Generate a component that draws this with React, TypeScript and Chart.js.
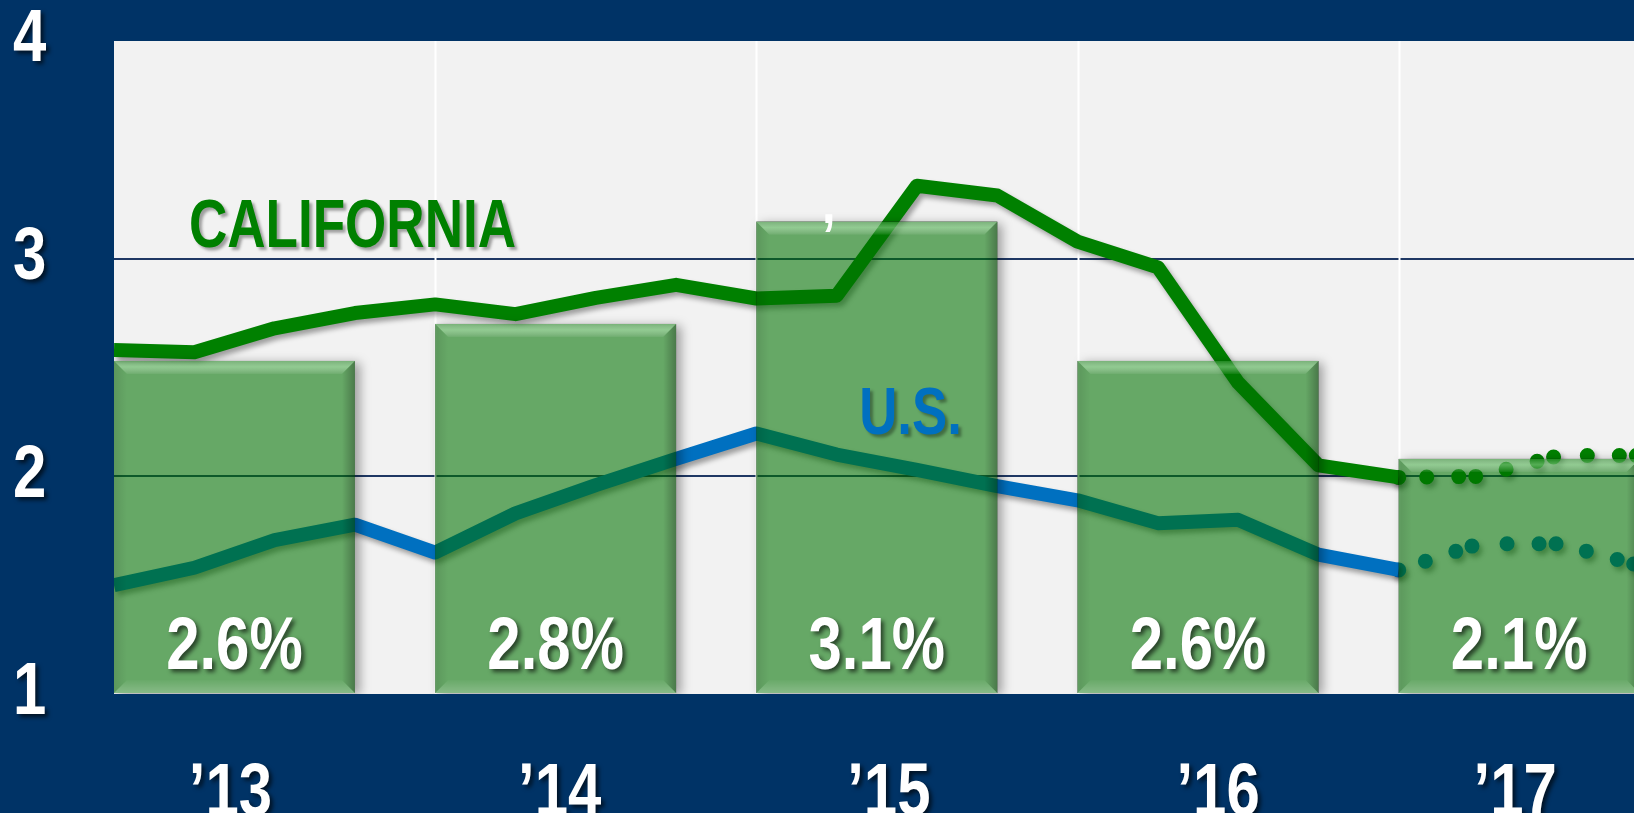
import { useEffect, useRef } from 'react';
import { Chart, registerables } from 'chart.js';

Chart.register(...registerables);

// ---------- data ----------
const YEAR_LABELS = ['\u201913', '\u201914', '\u201915', '\u201916', '\u201917'];
const X_TICK_POS = [1.45, 5.55, 9.65, 13.75, 17.45]; // quarter units (Q1 2013 = 0)
const BAR_VALUES = [2.53, 2.70, 3.17, 2.53, 2.08];
const BAR_LABELS = ['2.6%', '2.8%', '3.1%', '2.6%', '2.1%'];
const QUARTERS = [
  'Q1 13', 'Q2 13', 'Q3 13', 'Q4 13',
  'Q1 14', 'Q2 14', 'Q3 14', 'Q4 14',
  'Q1 15', 'Q2 15', 'Q3 15', 'Q4 15',
  'Q1 16', 'Q2 16', 'Q3 16', 'Q4 16',
  'Q1 17', 'Q2 17', 'Q3 17', 'Q4 17',
];
const CA_ACTUAL = [2.58, 2.57, 2.68, 2.75, 2.79, 2.745, 2.82, 2.88, 2.817, 2.83, 3.335, 3.29, 3.078, 2.96, 2.43, 2.05, 1.995];
const CA_FORECAST = [1.995, 2.0, 2.096, 2.096];
const US_ACTUAL = [1.5, 1.58, 1.707, 1.778, 1.65, 1.83, 1.96, 2.08, 2.197, 2.10, 2.03, 1.955, 1.89, 1.785, 1.80, 1.64, 1.57];
const US_FORECAST = [1.57, 1.69, 1.69, 1.59];
const Y_TICKS = [1, 2, 3, 4];

const FONT = "'Liberation Sans Narrow', 'Arial Narrow', 'Liberation Sans', Arial, sans-serif";
const NAVY = '#003366';
const SQUEEZE = 0.81; // emulate a narrow typeface

const X_MAX = 18.93;
const QUARTERS_PER_YEAR = 4;
const BAR_SPAN = 3; // quarters covered by a bar
const FORECAST_START = CA_ACTUAL.length - 1;

const minTickGap = Math.min(
  QUARTERS_PER_YEAR,
  ...X_TICK_POS.slice(1).map((v, i) => v - X_TICK_POS[i])
);

function toPoints(vals: number[], offset: number) {
  return vals.map((v, i) => ({ x: QUARTERS.indexOf(QUARTERS[offset + i]), y: v }));
}

function poly(ctx: CanvasRenderingContext2D, pts: number[][], fill: any) {
  ctx.beginPath();
  ctx.moveTo(pts[0][0], pts[0][1]);
  for (let i = 1; i < pts.length; i++) ctx.lineTo(pts[i][0], pts[i][1]);
  ctx.closePath();
  ctx.fillStyle = fill;
  ctx.fill();
}

function squeezedText(ctx: CanvasRenderingContext2D, text: string, x: number, y: number, sx: number) {
  ctx.save();
  ctx.translate(x, y);
  ctx.scale(sx, 1);
  ctx.fillText(text, 0, 0);
  ctx.restore();
}

const decorPlugin = {
  id: 'decor',
  beforeDraw(chart: any) {
    const { ctx, chartArea: a } = chart;
    ctx.save();
    ctx.fillStyle = NAVY;
    ctx.fillRect(0, 0, chart.width, chart.height);
    ctx.fillStyle = '#F2F2F2';
    ctx.fillRect(a.left, a.top, a.right - a.left, a.bottom - a.top);
    ctx.restore();
    for (const s of Object.values(chart.scales) as any[]) {
      if (!s.__patched) {
        s.drawLabels = (area: any) => {
          const c = s.ctx;
          const items = s.getLabelItems(area);
          c.save();
          c.shadowColor = 'rgba(0,0,0,0.65)';
          c.shadowBlur = 4;
          c.shadowOffsetX = 3;
          c.shadowOffsetY = 3;
          for (const item of items) {
            const o = item.options;
            c.font = item.font.string;
            c.fillStyle = o.color;
            c.textAlign = o.textAlign;
            c.textBaseline = o.textBaseline;
            c.save();
            c.translate(o.translation[0], o.translation[1]);
            c.scale(SQUEEZE, 1);
            c.fillText(String(item.label), 0, item.textOffset);
            c.restore();
          }
          c.restore();
        };
        s.__patched = true;
      }
    }
  },
  beforeDatasetsDraw(chart: any) {
    const { ctx, chartArea: a, scales } = chart;
    ctx.save();
    ctx.strokeStyle = '#FFFFFF';
    ctx.lineWidth = 2;
    for (let k = 1; k < YEAR_LABELS.length; k++) {
      const px = Math.round(scales.x.getPixelForValue(k * QUARTERS_PER_YEAR)) + 0.5;
      ctx.beginPath();
      ctx.moveTo(px, a.top);
      ctx.lineTo(px, a.bottom);
      ctx.stroke();
    }
    ctx.restore();
  },
  beforeDatasetDraw(chart: any, args: any) {
    const ctx = chart.ctx;
    const meta = args.meta;
    if (meta.type === 'line') {
      ctx.save();
      ctx.shadowColor = 'rgba(0,0,0,0.35)';
      ctx.shadowBlur = 5;
      ctx.shadowOffsetX = 3;
      ctx.shadowOffsetY = 4;
    } else if (meta.type === 'bar') {
      const a = chart.chartArea;
      ctx.save();
      ctx.beginPath();
      ctx.rect(a.left, a.top, a.right - a.left, a.bottom - a.top);
      ctx.clip();
      meta.data.forEach((el: any) => {
        const { x, y, base, width } = el.getProps(['x', 'y', 'base', 'width'], true);
        const l = x - width / 2;
        ctx.save();
        ctx.beginPath();
        ctx.rect(0, 0, chart.width, chart.height);
        ctx.rect(l, y, width, base - y);
        ctx.clip('evenodd');
        ctx.shadowColor = 'rgba(0,0,0,0.35)';
        ctx.shadowBlur = 10;
        ctx.shadowOffsetX = 5;
        ctx.shadowOffsetY = 2;
        ctx.fillStyle = '#000';
        ctx.fillRect(l, y, width, base - y);
        ctx.restore();
      });
      ctx.restore();
    }
  },
  afterDatasetDraw(chart: any, args: any) {
    const ctx = chart.ctx;
    const meta = args.meta;
    if (meta.type === 'line') {
      ctx.restore();
    } else if (meta.type === 'bar') {
      const a = chart.chartArea;
      ctx.save();
      ctx.beginPath();
      ctx.rect(a.left, a.top, a.right - a.left, a.bottom - a.top);
      ctx.clip();
      const b = 13;
      meta.data.forEach((el: any) => {
        const { x, y, base, width } = el.getProps(['x', 'y', 'base', 'width'], true);
        const L = x - width / 2;
        const R = x + width / 2;
        const t = y;
        const bt = base;
        let g = ctx.createLinearGradient(0, t, 0, t + b);
        g.addColorStop(0, 'rgba(255,255,255,0.12)');
        g.addColorStop(0.45, 'rgba(210,255,210,0.4)');
        g.addColorStop(1, 'rgba(255,255,255,0.06)');
        poly(ctx, [[L, t], [R, t], [R - b, t + b], [L + b, t + b]], g);
        g = ctx.createLinearGradient(R - b, 0, R, 0);
        g.addColorStop(0, 'rgba(0,0,0,0)');
        g.addColorStop(1, 'rgba(0,0,0,0.28)');
        poly(ctx, [[R, t], [R, bt], [R - b, bt - b], [R - b, t + b]], g);
        g = ctx.createLinearGradient(L, 0, L + b, 0);
        g.addColorStop(0, 'rgba(0,0,0,0.1)');
        g.addColorStop(1, 'rgba(0,0,0,0)');
        poly(ctx, [[L, t], [L + b, t + b], [L + b, bt - b], [L, bt]], g);
        g = ctx.createLinearGradient(0, bt - b, 0, bt);
        g.addColorStop(0, 'rgba(255,255,255,0.02)');
        g.addColorStop(1, 'rgba(255,255,255,0.22)');
        poly(ctx, [[L, bt], [R, bt], [R - b, bt - b], [L + b, bt - b]], g);
      });
      ctx.restore();
    }
  },
  afterDatasetsDraw(chart: any) {
    const { ctx, scales } = chart;
    const barMeta = chart.getDatasetMeta(0);
    ctx.save();
    ctx.textAlign = 'center';
    ctx.textBaseline = 'middle';
    ctx.shadowColor = 'rgba(0,0,0,0.6)';
    ctx.shadowBlur = 4;
    ctx.shadowOffsetX = 3;
    ctx.shadowOffsetY = 3;
    ctx.fillStyle = '#FFFFFF';
    ctx.font = `bold 74px ${FONT}`;
    barMeta.data.forEach((el: any, i: number) => {
      const { x, base } = el.getProps(['x', 'base'], true);
      squeezedText(ctx, BAR_LABELS[i], x, base - 44, SQUEEZE);
    });
    ctx.shadowColor = 'rgba(0,0,0,0.35)';
    ctx.shadowBlur = 3;
    ctx.font = `bold 68px ${FONT}`;
    ctx.fillStyle = '#008000';
    squeezedText(ctx, 'CALIFORNIA', scales.x.getPixelForValue(2.97), scales.y.getPixelForValue(3.14), 0.78);
    ctx.font = `bold 66px ${FONT}`;
    ctx.fillStyle = '#0070C0';
    squeezedText(ctx, 'U.S.', scales.x.getPixelForValue(9.92), scales.y.getPixelForValue(2.28), 0.8);
    ctx.shadowColor = 'rgba(0,0,0,0)';
    ctx.font = `bold 60px ${FONT}`;
    ctx.fillStyle = '#FFFFFF';
    squeezedText(ctx, ',', scales.x.getPixelForValue(8.9), scales.y.getPixelForValue(3.24), SQUEEZE);
    ctx.restore();
  },
};

const dotSegment = {
  borderDashOffset: (c: any) => c.p0DataIndex * 0.0001,
};

export default function App() {
  const ref = useRef<HTMLCanvasElement | null>(null);
  useEffect(() => {
    if (!ref.current) return;
    const chart = new Chart(ref.current, {
      type: 'line',
      data: {
        datasets: [
          {
            type: 'bar',
            label: 'Annual growth',
            data: BAR_VALUES.map((v, k) => ({ x: k * QUARTERS_PER_YEAR + BAR_SPAN / 2, y: v })),
            base: 1,
            backgroundColor: 'rgba(0,114,0,0.58)',
            borderWidth: 0,
            barPercentage: BAR_SPAN / minTickGap,
            categoryPercentage: 1,
            order: 0,
          } as any,
          {
            type: 'line',
            label: 'California',
            data: toPoints(CA_ACTUAL, 0),
            borderColor: '#008000',
            borderWidth: 14,
            pointRadius: 0,
            tension: 0,
            borderJoinStyle: 'round',
            borderCapStyle: 'butt',
            order: 1,
          },
          {
            type: 'line',
            label: 'California forecast',
            data: toPoints(CA_FORECAST, FORECAST_START),
            borderColor: '#008000',
            borderWidth: 15,
            pointRadius: 0,
            tension: 0,
            borderDash: [0, 28, 0, 32, 0, 17, 0, 1000],
            borderCapStyle: 'round',
            segment: dotSegment,
            order: 1,
          } as any,
          {
            type: 'line',
            label: 'U.S.',
            data: toPoints(US_ACTUAL, 0),
            borderColor: '#0070C0',
            borderWidth: 14,
            pointRadius: 0,
            tension: 0,
            borderJoinStyle: 'round',
            borderCapStyle: 'butt',
            order: 1,
          },
          {
            type: 'line',
            label: 'U.S. forecast',
            data: toPoints(US_FORECAST, FORECAST_START),
            borderColor: '#0070C0',
            borderWidth: 15,
            pointRadius: 0,
            tension: 0,
            borderDash: [0, 28, 0, 32, 0, 17, 0, 1000],
            borderCapStyle: 'round',
            segment: dotSegment,
            order: 1,
          } as any,
        ],
      },
      options: {
        animation: false,
        responsive: false,
        layout: { padding: { top: 41, left: 13, right: 0, bottom: 0 } },
        plugins: { legend: { display: false }, tooltip: { enabled: false } },
        scales: {
          x: {
            type: 'linear',
            min: 0,
            max: X_MAX,
            offset: false,
            grid: { display: false, offset: false },
            border: { display: false },
            afterBuildTicks: (s: any) => {
              s.ticks = X_TICK_POS.map((v) => ({ value: v }));
            },
            afterFit: (s: any) => {
              s.height = 119;
            },
            ticks: {
              autoSkip: false,
              maxRotation: 0,
              color: '#FFFFFF',
              padding: 48,
              font: { family: FONT, size: 74, weight: 'bold', lineHeight: 1.2 },
              callback: (_v: any, i: number) => YEAR_LABELS[i],
            },
          },
          y: {
            type: 'linear',
            min: 1,
            max: 4,
            afterBuildTicks: (s: any) => {
              s.ticks = Y_TICKS.map((v) => ({ value: v }));
            },
            afterFit: (s: any) => {
              s.width = 101;
            },
            border: { display: false },
            grid: {
              drawTicks: false,
              lineWidth: 2,
              color: (c: any) => (c.tick && (c.tick.value === 2 || c.tick.value === 3) ? '#1F3864' : 'rgba(0,0,0,0)'),
            },
            ticks: {
              color: '#FFFFFF',
              padding: 0,
              crossAlign: 'far',
              font: { family: FONT, size: 74, weight: 'bold', lineHeight: 1 },
              callback: (v: any) => String(v),
            },
          },
        },
      } as any,
      plugins: [decorPlugin],
    });
    return () => chart.destroy();
  }, []);

  return (
    <div style={{ position: 'fixed', left: 0, top: 0, width: 1634, height: 813, overflow: 'hidden', background: NAVY }}>
      <canvas ref={ref} width={1634} height={813} style={{ display: 'block' }} />
    </div>
  );
}
